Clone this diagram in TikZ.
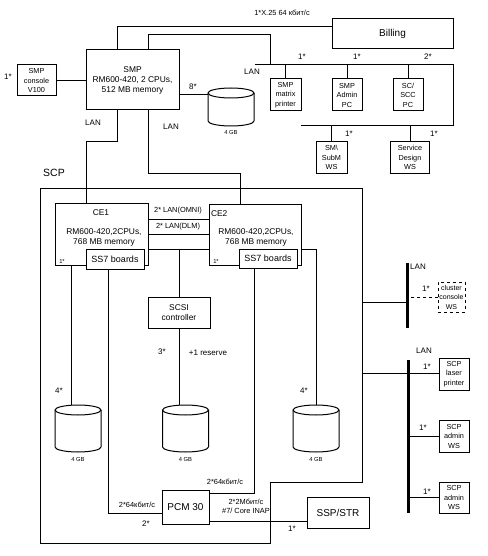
\documentclass[tikz,border=0pt]{standalone}
\usepackage{fontspec}
\setmainfont{Liberation Sans}
\usetikzlibrary{calc}
\newcommand\diskdraw[1]{%
  \draw[ln] ($(#1.north west)+(0,5)$) -- ($(#1.south west)+(0,-5)$)
     arc[start angle=180,end angle=360,x radius=23pt,y radius=5pt]
     -- ($(#1.north east)+(0,5)$);
  \draw[ln] ($(#1.north)+(0,5)$) ellipse [x radius=23pt, y radius=5pt];}
\begin{document}
\begin{tikzpicture}[x=1pt,y=-1pt,
  every node/.style={inner sep=0pt, outer sep=0pt},
  ln/.style={line width=1pt},
  box/.style={draw, line width=1pt, align=center, inner sep=0pt, fill=white},
  sbox/.style={box, font=\fontsize{7.3}{9.5}\selectfont, minimum width=31pt, minimum height=32pt},
  bbox/.style={box, font=\fontsize{8.4}{10}\selectfont},
  cetext/.style={font=\fontsize{8.4}{10}\selectfont, align=center},
  lbl/.style={font=\fontsize{8}{9}\selectfont},
  smalllbl/.style={font=\fontsize{7.4}{9}\selectfont, align=center},
  gb/.style={font=\fontsize{5.8}{7}\selectfont},
  bigbox/.style={box, font=\fontsize{10}{12}\selectfont},
  diskn/.style={minimum width=46pt, minimum height=47pt},
  busline/.style={line width=3pt},
]
\fill[white] (0,0) rectangle (487,556);
\useasboundingbox (0,0) rectangle (487,556);

% ---------------- SMP part ----------------
\node[sbox, minimum width=39pt, minimum height=31pt] (smpc) at (36.5,80.5) {SMP\\console\\V100};
\node[lbl] at (8,77) {1*};
\node[bbox, minimum width=93pt, minimum height=60pt] (smp) at (132.5,80) {SMP\\RM600-420, 2 CPUs,\\512 MB memory};
\node[bigbox, minimum width=121pt, minimum height=30pt] (billing) at (392.5,34) {Billing};
\node[diskn, minimum height=38pt] (smpdisk) at (231,107) {};
\diskdraw{smpdisk}
\node[gb] at (231,133) {4 GB};

\draw[ln] (smpc.east) -- (smpc.east -| smp.west);
\draw[ln] ($(smp.north west)+(31,0)$) |- ($(billing.north west)+(0,8)$);
\node[smalllbl] at (282,13) {1*X.25 64 кбит/с};

\coordinate (lanA) at (255,65);
\coordinate (lanJ) at (270,65);
\coordinate (lanB) at (453,65);
\coordinate (lanC) at (453,126);
\coordinate (lanD) at (301,126);
\draw[ln] (lanA) -- (lanB) -- (lanC) -- (lanD);
\draw[ln] ($(smp.north west)+(62,0)$) |- ($(lanJ)+(0,-30)$) -- (lanJ);
\node[lbl] at (252,72) {LAN};

\coordinate (s8) at ($(smp.east)+(0,15)$);
\draw[ln] (s8) -- (s8 -| smpdisk.west);
\node[lbl] at (193,87) {8*};

\node[sbox] (mp) at (285.5,95) {SMP\\matrix\\printer};
\node[sbox, minimum width=30pt] (sap) at (347,95) {SMP\\Admin\\PC};
\node[sbox, minimum width=30pt] (scc) at (408,95) {SC/\\SCC\\PC};
\node[sbox, minimum height=31pt] (smws) at (331.5,157.5) {SM\textbackslash\\SubM\\WS};
\node[sbox, minimum width=39pt, minimum height=31pt] (sdws) at (410,157.5) {Service\\Design\\WS};
\draw[ln] (mp.north) -- (mp.north |- lanA);
\draw[ln] (sap.north) -- (sap.north |- lanA);
\draw[ln] (scc.north) -- (scc.north |- lanA);
\draw[ln] (smws.north) -- (smws.north |- lanC);
\draw[ln] (sdws.north) -- (sdws.north |- lanC);
\node[lbl] at (302,57) {1*};
\node[lbl] at (357,57) {1*};
\node[lbl] at (428,57) {2*};
\node[lbl] at (349,134) {1*};
\node[lbl] at (434,134) {1*};

% ---------------- SCP frame ----------------
\coordinate (f1) at (40,188);
\coordinate (f2) at (362,188);
\coordinate (f3) at (362,482);
\coordinate (f4) at (270,482);
\coordinate (f5) at (270,543);
\coordinate (f6) at (40,543);
\draw[ln] (f1) -- (f2) -- (f3) -- (f4) -- (f5) -- (f6) -- cycle;
\node[font=\fontsize{10.5}{12}\selectfont] at (54,173) {SCP};

% CE1 / CE2
\node[draw, ln, minimum width=93pt, minimum height=62pt] (ce1) at (101.5,234) {};
\node[cetext] at (101,213) {CE1};
\node[cetext] at (104,237) {RM600-420,2CPUs,\\768 MB memory};
\node[box, font=\fontsize{9}{10}\selectfont, minimum width=58pt, minimum height=20pt] (ss1) at (115,259) {SS7 boards};
\node[draw, ln, minimum width=92pt, minimum height=61pt] (ce2) at (255,234.5) {};
\node[cetext, anchor=west] at (211,214) {CE2};
\node[cetext] at (256,237) {RM600-420,2CPUs,\\768 MB memory};
\node[box, font=\fontsize{9}{10}\selectfont, minimum width=58pt, minimum height=19pt] (ss2) at (268,258.5) {SS7 boards};
\node[gb] at (62,262) {1*};
\node[gb] at (216,262) {1*};

% SMP -> CE
\draw[ln] ($(smp.south west)+(31,0)$) -- ++(0,32) -| ($(ce1.north west)+(31,0)$);
\draw[ln] ($(smp.south west)+(62,0)$) -- ++(0,63) -| ($(ce2.north west)+(31,0)$);
\node[lbl] at (93,123) {LAN};
\node[lbl] at (171,127) {LAN};

% CE1 <-> CE2
\draw[ln] (ce1.east |- 0,219) -- (ce2.west |- 0,219);
\draw[ln] (ce1.east |- 0,234) -- (ce2.west |- 0,234);
\node[smalllbl] at (178,211) {2* LAN(OMNI)};
\node[smalllbl] at (178,227) {2* LAN(DLM)};
\coordinate (scsiJ) at (179,249);
\draw[ln] (ce1.east |- scsiJ) -- (ce2.west |- scsiJ);
\node[bbox, minimum width=62pt, minimum height=31pt] (scsi) at (179,312.5) {SCSI\\controller};
\draw[ln] (scsiJ) -- (scsi.north);

% disks
\node[diskn] (d1) at (78,428.5) {};
\node[diskn] (d2) at (185.5,428.5) {};
\node[diskn] (d3) at (316,428.5) {};
\diskdraw{d1}
\diskdraw{d2}
\diskdraw{d3}
\node[gb] at (78,459) {4 GB};
\node[gb] at (185.5,459) {4 GB};
\node[gb] at (316,459) {4 GB};

\draw[ln] (scsi.south) -- (scsi.south |- d2.north);
\node[lbl] at (162,352) {3*};
\node[lbl] at (208,353) {+1 reserve};

\coordinate (c1d) at ($(ce1.south west)+(16,0)$);
\draw[ln] (c1d) -- (c1d |- d1.north);
\node[lbl] at (59,391) {4*};

\draw[ln] (ce2.east |- 0,249) -| (d3.north);
\node[lbl] at (304,391) {4*};

% PCM
\node[bigbox, minimum width=47pt, minimum height=34pt] (pcm) at (185.5,507) {PCM 30};
\node[bigbox, minimum width=62pt, minimum height=31pt] (ssp) at (338,512.5) {SSP/STR};
\coordinate (p1) at ($(ss1.south west)+(22,0)$);
\draw[ln] (p1) |- (pcm.west |- 0,513);
\node[smalllbl] at (137,505) {2*64кбит/с};
\node[lbl] at (146,524) {2*};
\coordinate (p2) at ($(ss2.south west)+(15,0)$);
\draw[ln] (pcm.east |- 0,493) -| (p2);
\node[smalllbl] at (225,482) {2*64кбит/с};
\draw[ln] (pcm.east |- 0,521) -- (ssp.west |- 0,521);
\node[smalllbl] at (246,506.5) {2*2Мбит/с\\\#7/ Core INAP};
\node[lbl] at (292,529) {1*};

% right LANs
\coordinate (b1t) at (407,263);
\coordinate (b1b) at (407,328);
\draw[busline] (b1t) -- (b1b);
\node[lbl] at (418,267) {LAN};
\coordinate (fr1) at (362,302);
\draw[ln] (fr1) -- (fr1 -| b1t);
\node[sbox, dashed, minimum width=27pt, minimum height=30pt, font=\fontsize{7}{9.5}\selectfont] (ccws) at (451.5,297) {cluster\\console\\WS};
\draw[ln, dashed] (ccws.west) -- (ccws.west -| b1t);
\node[lbl] at (426,289) {1*};

\coordinate (b2t) at (408,360);
\coordinate (b2b) at (408,513);
\draw[busline] (b2t) -- (b2b);
\node[lbl] at (424,351) {LAN};
\node[sbox, minimum width=30pt] (slp) at (454,374) {SCP\\laser\\printer};
\node[sbox, minimum width=30pt] (saw1) at (454,436) {SCP\\admin\\WS};
\node[sbox, minimum width=30pt, minimum height=31pt] (saw2) at (454,497.5) {SCP\\admin\\WS};
\coordinate (fr2) at (362,373);
\draw[ln] (fr2) -- (fr2 -| slp.west);
\draw[ln] (saw1.west) -- (saw1.west -| b2t);
\draw[ln] (saw2.west) -- (saw2.west -| b2t);
\node[lbl] at (427,367) {1*};
\node[lbl] at (423,428) {1*};
\node[lbl] at (427,492) {1*};
\end{tikzpicture}
\end{document}
